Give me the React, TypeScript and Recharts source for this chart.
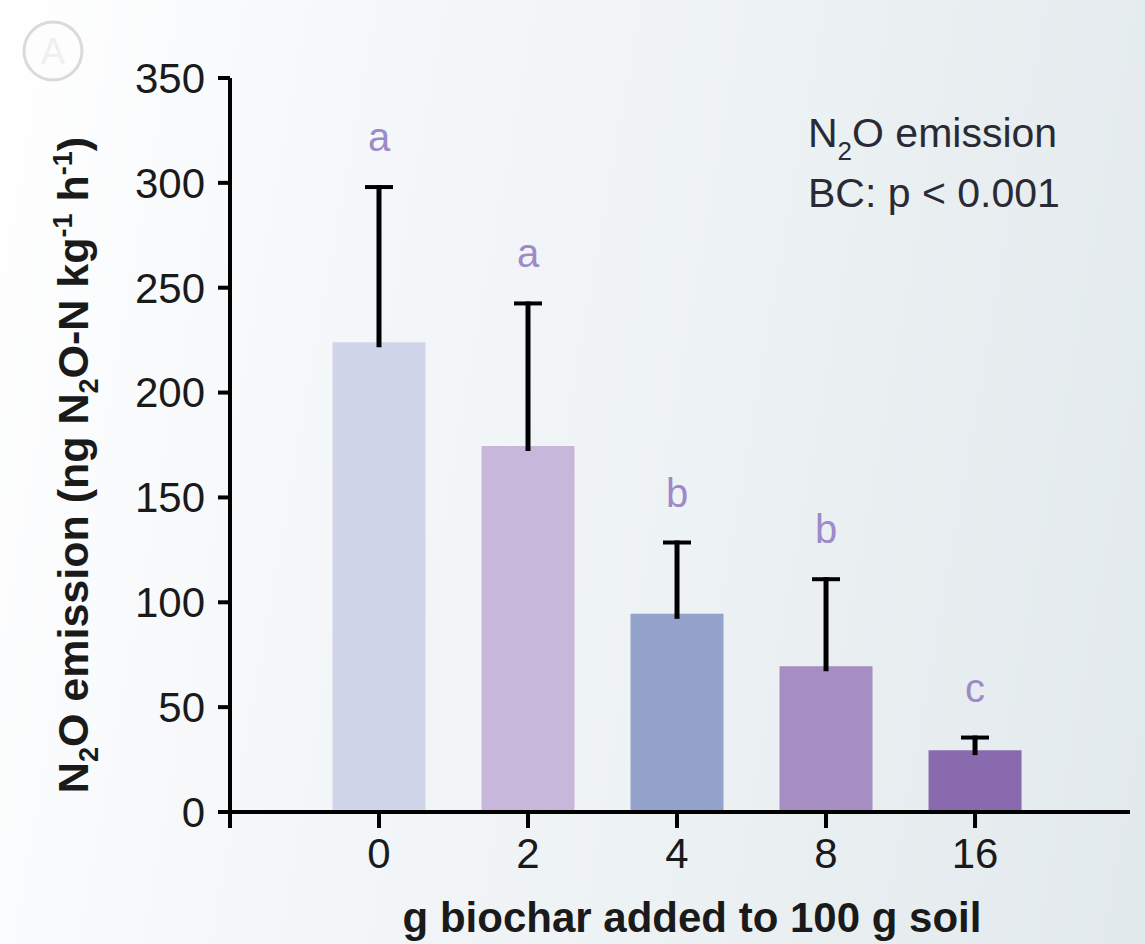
import React from 'react';
import { ComposedChart, Bar, XAxis, YAxis, Cell, LabelList, Label } from 'recharts';

const categories = ['0', '2', '4', '8', '16'];
const means = [224, 174.5, 94.5, 69.5, 29.5];
const errors = [74, 68, 34, 41.5, 6];
const letters = ['a', 'a', 'b', 'b', 'c'];
const barColors = ['#d0d5e9', '#c7b8db', '#93a3cc', '#a68dc2', '#8a6aae'];
const yTicks = [0, 50, 100, 150, 200, 250, 300, 350];
const xTicks = [-1, 0, 1, 2, 3, 4];

const data = categories.map((c, i) => ({ idx: i, cat: c, mean: means[i], err: errors[i], letter: letters[i] }));

const FONT = "'Liberation Sans', Arial, Helvetica, sans-serif";

const ErrShape = (props: any) => {
  const { x, y, width, height } = props;
  const cx = x + width / 2;
  return (
    <g>
      <line x1={cx} x2={cx} y1={y - 2} y2={y + height + 5} stroke="#000" strokeWidth={5} />
      <line x1={cx - 14} x2={cx + 14} y1={y} y2={y} stroke="#000" strokeWidth={4} />
    </g>
  );
};

const LetterLabel = (props: any) => {
  const { x, y, width, value } = props;
  return (
    <text x={x + width / 2} y={y - 36} textAnchor="middle" fontSize={40} fontFamily={FONT} fill="#9d8ac8">
      {value}
    </text>
  );
};

const YLabel = () => {
  const cx = 88;
  const cy = 465;
  return (
    <text
      x={cx}
      y={cy}
      transform={`rotate(-90, ${cx}, ${cy})`}
      textAnchor="middle"
      fontSize={43}
      fontWeight="bold"
      fontFamily={FONT}
      fill="#1a1a1a"
    >
      N<tspan fontSize={27} dy={10}>2</tspan>
      <tspan dy={-10}>O emission (ng N</tspan>
      <tspan fontSize={27} dy={10}>2</tspan>
      <tspan dy={-10}>O-N kg</tspan>
      <tspan fontSize={27} dy={-16}>-1</tspan>
      <tspan dy={16}> h</tspan>
      <tspan fontSize={27} dy={-16}>-1</tspan>
      <tspan dy={16}>)</tspan>
    </text>
  );
};

const XLabel = (props: any) => {
  const vb = props.viewBox || { x: 230, width: 900 };
  return (
    <text
      x={vb.x + vb.width / 2 + 12}
      y={932}
      textAnchor="middle"
      fontSize={42}
      fontWeight="bold"
      fontFamily={FONT}
      fill="#1a1a1a"
    >
      g biochar added to 100 g soil
    </text>
  );
};

export default function App() {
  return (
    <div
      style={{
        position: 'absolute',
        top: 0,
        left: 0,
        width: 1145,
        height: 944,
        overflow: 'hidden',
        background: 'linear-gradient(100deg, #ffffff 0%, #f6f8fa 25%, #edf2f4 60%, #e2e9ec 100%)',
      }}
    >
      <ComposedChart width={1145} height={944} data={data} margin={{ top: 78, right: 15, bottom: 0, left: 0 }}>
        <XAxis
          dataKey="idx"
          type="number"
          domain={[-1, 5.04]}
          ticks={xTicks}
          interval={0}
          height={132}
          tickSize={16}
          tickMargin={10}
          axisLine={{ stroke: '#000', strokeWidth: 4 }}
          tickLine={{ stroke: '#000', strokeWidth: 4 }}
          tickFormatter={(v: number) => categories[v] ?? ''}
          tick={{ fontSize: 42, fill: '#1a1a1a', fontFamily: FONT }}
        >
          <Label content={<XLabel />} />
        </XAxis>
        <YAxis
          type="number"
          domain={[0, 350]}
          ticks={yTicks}
          interval={0}
          width={230}
          tickSize={12}
          tickMargin={13}
          axisLine={{ stroke: '#000', strokeWidth: 4 }}
          tickLine={{ stroke: '#000', strokeWidth: 4 }}
          tick={{ fontSize: 42, fill: '#1a1a1a', fontFamily: FONT }}
        >
          <Label content={<YLabel />} />
        </YAxis>
        <Bar dataKey="mean" stackId="s" barSize={93} isAnimationActive={false}>
          {data.map((d, i) => (
            <Cell key={d.cat} fill={barColors[i]} />
          ))}
        </Bar>
        <Bar dataKey="err" stackId="s" barSize={93} isAnimationActive={false} shape={<ErrShape />}>
          <LabelList dataKey="letter" content={<LetterLabel />} />
        </Bar>
      </ComposedChart>
      <svg width={1145} height={944} style={{ position: 'absolute', top: 0, left: 0, pointerEvents: 'none' }}>
        <circle cx={53} cy={51} r={29} fill="#fdfdfd" stroke="#dadada" strokeWidth={3} />
        <text x={53} y={64} textAnchor="middle" fontSize={36} fontFamily={FONT} fill="#f1eeee">
          A
        </text>
        <text x={808} y={147} fontSize={41} fontFamily={FONT} fill="#2a2a35">
          N<tspan fontSize={26} dy={13}>2</tspan>
          <tspan dy={-13}>O emission</tspan>
        </text>
        <text x={808} y={207} fontSize={41} fontFamily={FONT} fill="#2a2a35">
          BC: p &lt; 0.001
        </text>
      </svg>
    </div>
  );
}
